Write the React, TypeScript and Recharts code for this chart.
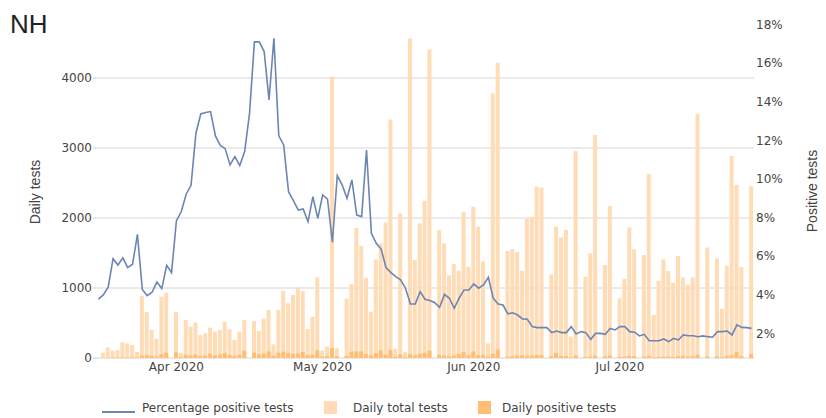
import {
	Bar,
	CartesianGrid,
	ComposedChart,
	Line,
	XAxis,
	YAxis,
} from "recharts";

// one entry per day, starting 2020-03-16
const pctPositive = [
	3.77, 3.99, 4.39, 5.87, 5.54, 5.91, 5.41, 5.58, 7.13, 4.28,
	3.96, 4.13, 4.66, 4.32, 5.53, 5.15, 7.84, 8.31, 9.21, 9.67,
	12.37, 13.37, 13.44, 13.49, 12.23, 11.74, 11.57, 10.73, 11.16, 10.69,
	11.42, 13.4, 17.1, 17.1, 16.6, 14.09, 17.29, 12.23, 11.76, 9.34,
	8.88, 8.39, 8.45, 7.79, 9.08, 7.96, 9.17, 8.95, 6.72, 10.17,
	9.69, 9.0, 9.95, 8.13, 8.05, 11.5, 7.18, 6.67, 6.37, 5.41,
	5.15, 4.94, 4.77, 4.34, 3.52, 3.52, 4.16, 3.77, 3.7, 3.59,
	3.35, 4.02, 3.82, 3.3, 3.82, 4.25, 4.25, 4.56, 4.34, 4.51,
	4.91, 3.82, 3.52, 3.47, 3.01, 3.07, 2.95, 2.75, 2.73, 2.35,
	2.3, 2.3, 2.3, 2.04, 2.12, 2.04, 2.04, 2.35, 1.97, 2.09,
	2.04, 1.69, 2.0, 2.0, 1.95, 2.26, 2.18, 2.35, 2.35, 2.09,
	2.06, 1.87, 1.95, 1.62, 1.62, 1.62, 1.71, 1.57, 1.74, 1.66,
	1.92, 1.88, 1.88, 1.83, 1.87, 1.83, 1.8, 2.09, 2.09, 2.12,
	1.92, 2.44, 2.31, 2.3, 2.26,
];

const dailyTotal = [
	null, 76, 152, 105, 114, 224, 209, 186, 86, 890,
	657, 400, 276, 876, 933, null, 657, 76, 543, 447,
	509, 328, 352, 433, 376, 400, 519, 409, 257, 376,
	543, null, 528, 385, 562, 686, 195, 686, 957, 781,
	900, 1004, 957, 414, 590, 1152, 105, 162, 4017, 138,
	null, 847, 1057, 1852, 1604, 1147, 662, 1409, 1637, 1937,
	3408, 130, 2066, 90, 4565, 1399, 1923, 2247, 4408, null,
	1828, 1637, 1180, 1342, 1247, 2085, 1304, 2161, 1875, 1380,
	209, 3779, 4217, null, 1528, 1557, 1514, 1247, 1985, 2018,
	2447, 2432, null, 1195, 1875, 1723, 1828, 305, 2956, null,
	1161, 1495, 3184, null, 1328, 2171, null, 852, 1130, 1864,
	1552, null, 1471, 2628, 614, 1104, 1409, 1242, 1076, 1457,
	1150, 1050, 1152, 3490, null, 1580, null, 1423, 702, 1319,
	2889, 2475, 1298, null, 2452,
];

const dailyPositive = [
	null, 3, 5, 8, 6, 10, 9, 12, 8, 35,
	40, 30, 22, 55, 75, null, 80, 15, 45, 35,
	48, 30, 36, 60, 38, 50, 70, 42, 30, 45,
	105, null, 75, 52, 65, 95, 30, 75, 90, 70,
	60, 65, 85, 40, 45, 110, 20, 30, 140, 25,
	null, 30, 90, 95, 95, 55, 35, 70, 110, 45,
	115, 15, 50, 12, 55, 40, 60, 75, 105, null,
	45, 35, 25, 35, 60, 85, 35, 95, 40, 45,
	20, 60, 120, null, 18, 25, 35, 40, 30, 35,
	45, 40, null, 25, 70, 30, 28, 10, 35, null,
	15, 20, 30, null, 22, 35, null, 15, 20, 30,
	25, null, 22, 30, 10, 15, 20, 20, 15, 25,
	35, 20, 25, 45, null, 20, null, 25, 12, 30,
	40, 85, 25, null, 55,
];

const monthTicks = ["2020-04-01", "2020-05-01", "2020-06-01", "2020-07-01"];
const monthLabels = ["Apr 2020", "May 2020", "Jun 2020", "Jul 2020"];
const testTicks = [0, 1000, 2000, 3000, 4000];
const pctTicks = [2, 4, 6, 8, 10, 12, 14, 16, 18];

const START = Date.UTC(2020, 2, 16);

const data = pctPositive.map((p, i) => ({
	date: new Date(START + i * 86400000).toISOString().slice(0, 10),
	pct: p,
	total: dailyTotal[i],
	positive: dailyPositive[i],
}));

const LINE = "#6b86b5";
const TOTAL = "#ffdcb6";
const POSITIVE = "#ffbe72";
const TEXT = "#444";

const abs = (left: number, top: number) => ({ position: "absolute" as const, left, top });

export default function App() {
	return (
		<div
			style={{
				position: "absolute",
				left: 0,
				top: 0,
				width: 826,
				height: 418,
				background: "#fff",
				fontFamily: "DejaVu Sans",
				color: TEXT,
			}}
		>
			<div style={{ ...abs(10, 11), fontFamily: "Liberation Sans", fontSize: 26, lineHeight: "26px", color: "#222" }}>
				NH
			</div>
			<div
				style={{
					...abs(35, 192),
					fontFamily: "Liberation Sans",
					fontSize: 14,
					whiteSpace: "nowrap",
					transform: "translate(-50%, -50%) rotate(-90deg)",
				}}
			>
				Daily tests
			</div>
			<div
				style={{
					...abs(812, 191),
					fontFamily: "Liberation Sans",
					fontSize: 14,
					whiteSpace: "nowrap",
					transform: "translate(-50%, -50%) rotate(-90deg)",
				}}
			>
				Positive tests
			</div>

			<ComposedChart
				width={826}
				height={418}
				data={data}
				barGap={-4}
				margin={{ top: 22, right: 32, bottom: 40, left: 36 }}
			>
				<CartesianGrid vertical={false} yAxisId="left" syncWithTicks stroke="#d6d6d6" />
				<XAxis
					dataKey="date"
					ticks={monthTicks}
					interval={0}
					height={20}
					axisLine={false}
					tickLine={false}
					tickSize={3}
					tickMargin={1}
					tick={{ fontSize: 12, fill: TEXT }}
					tickFormatter={(d) => monthLabels[monthTicks.indexOf(d)] ?? ""}
				/>
				<YAxis
					yAxisId="left"
					width={60}
					domain={[0, 4800]}
					ticks={testTicks}
					axisLine={false}
					tickLine={{ stroke: "#ccc" }}
					tickSize={3}
					tickMargin={1}
					tick={{ fontSize: 12, fill: TEXT }}
				/>
				<YAxis
					yAxisId="right"
					orientation="right"
					width={40}
					domain={[0.725, 18.13]}
					ticks={pctTicks}
					allowDataOverflow
					axisLine={false}
					tickLine={false}
					tickSize={1}
					tickMargin={1}
					tick={{ fontSize: 12, fill: TEXT }}
					tickFormatter={(v) => `${v}%`}
				/>
				<Bar yAxisId="left" dataKey="total" fill={TOTAL} barSize={4} isAnimationActive={false} />
				<Bar yAxisId="left" dataKey="positive" fill={POSITIVE} barSize={4} isAnimationActive={false} />
				<Line
					yAxisId="right"
					dataKey="pct"
					type="linear"
					stroke={LINE}
					strokeWidth={1.6}
					dot={false}
					isAnimationActive={false}
				/>
			</ComposedChart>

			<div style={{ ...abs(102, 411), width: 33, height: 2, background: LINE }} />
			<div style={{ ...abs(142, 401), fontSize: 12, lineHeight: "14px" }}>Percentage positive tests</div>
			<div style={{ ...abs(324, 401), width: 13, height: 13, background: TOTAL }} />
			<div style={{ ...abs(353, 401), fontSize: 12, lineHeight: "14px" }}>Daily total tests</div>
			<div style={{ ...abs(478, 401), width: 13, height: 13, background: POSITIVE }} />
			<div style={{ ...abs(502, 401), fontSize: 12, lineHeight: "14px" }}>Daily positive tests</div>
		</div>
	);
}
